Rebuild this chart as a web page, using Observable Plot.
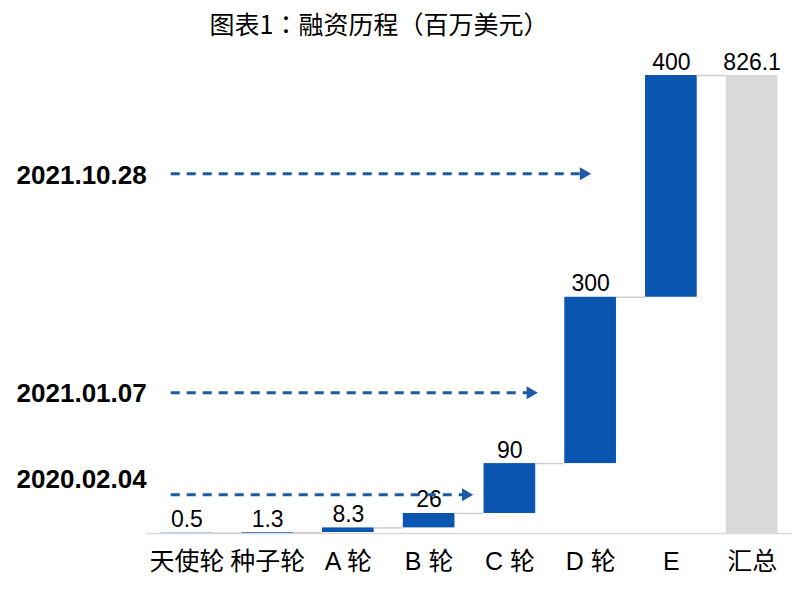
<!DOCTYPE html>
<html><head><meta charset="utf-8">
<script src="https://cdn.jsdelivr.net/npm/d3@7"></script>
<script src="https://cdn.jsdelivr.net/npm/@observablehq/plot@0.6"></script>
<style>
body{margin:0;background:#fff;}
#title{width:758px;height:46px;line-height:46px;text-align:center;font-family:"Noto Sans CJK TC","Noto Sans CJK SC",sans-serif;font-size:25px;color:#000;}
</style></head><body>
<div id="title">图表1：融资历程（百万美元）</div>
<div id="chart"></div>
<script>
const categories = ["天使轮","种子轮","A 轮","B 轮","C 轮","D 轮","E","汇总"];
const values = [0.5, 1.3, 8.3, 26, 90, 300, 400, 826.1];
const isTotal = [false, false, false, false, false, false, false, true];
const arrowDates = ["2021.10.28", "2021.01.07", "2020.02.04"];
const arrowLevels = [649, 254, 70];
const dateLabelLevels = [645, 253, 97];
const arrowTargets = [5.0, 4.34, 3.54];
const arrowOrigin = -0.2;

const blue = "#0a55b0";
const grey = "#d9d9d9";
const arrowBlue = "#1c5aa8";
const half = 0.32;

let cum = 0;
const rows = categories.map((c, i) => {
  const v = values[i];
  let y1, y2;
  if (isTotal[i]) { y1 = 0; y2 = v; }
  else { y1 = cum; y2 = cum + v; cum = y2; }
  return {i, c, v, y1, y2, total: isTotal[i]};
});
const connectors = rows.slice(0, -1).map(r => ({x1: r.i + half, x2: r.i + 1 - half, y: r.y2}));
const arrows = arrowDates.map((d, k) => ({date: d, y: arrowLevels[k], ly: dateLabelLevels[k], x1: arrowOrigin, x2: arrowTargets[k]}));

const chart = Plot.plot({
  width: 808, height: 544,
  marginLeft: 146, marginRight: 16, marginTop: 29, marginBottom: 57,
  x: {type: "linear", domain: [-0.5, 7.5], axis: null},
  y: {domain: [0, 826.1], axis: null},
  style: {fontFamily: '"Liberation Sans", "Noto Sans CJK SC", sans-serif', background: "white", color: "black", fontSize: "25px", overflow: "visible"},
  marks: [
    Plot.ruleY([0], {stroke: grey, strokeWidth: 1.5}),
    Plot.rectY(rows.filter(d => !d.total), {x1: d => d.i - half, x2: d => d.i + half, y1: "y1", y2: "y2", fill: blue}),
    Plot.rectY(rows.filter(d => d.total), {x1: d => d.i - half, x2: d => d.i + half, y1: "y1", y2: "y2", fill: grey}),
    Plot.ruleY(connectors, {x1: "x1", x2: "x2", y: "y", stroke: "#d0d0d0", strokeWidth: 1.5}),
    Plot.text(rows, {x: "i", y: "y2", text: d => String(d.v), lineAnchor: "bottom", dy: -6, fontSize: 23, fill: "black"}),
    Plot.axisX({ticks: d3.range(categories.length), tickFormat: i => categories[i], tickSize: 0, tickPadding: 19, fontSize: 25, fill: "black"}),
    Plot.link(arrows, {x1: "x1", x2: d => d.x2 - 0.1, y1: "y", y2: "y", stroke: arrowBlue, strokeWidth: 3, strokeDasharray: "9,7"}),
    Plot.dot(arrows, {x: "x2", y: "y", symbol: "triangle", r: 4.8, rotate: 90, fill: arrowBlue, stroke: null, dx: -7}),
    Plot.text(arrows, {x: "x1", y: "ly", text: "date", textAnchor: "end", dx: -24, fontSize: 26, fontWeight: "bold", fill: "black"})
  ]
});
document.getElementById("chart").appendChild(chart);
</script>
</body></html>
